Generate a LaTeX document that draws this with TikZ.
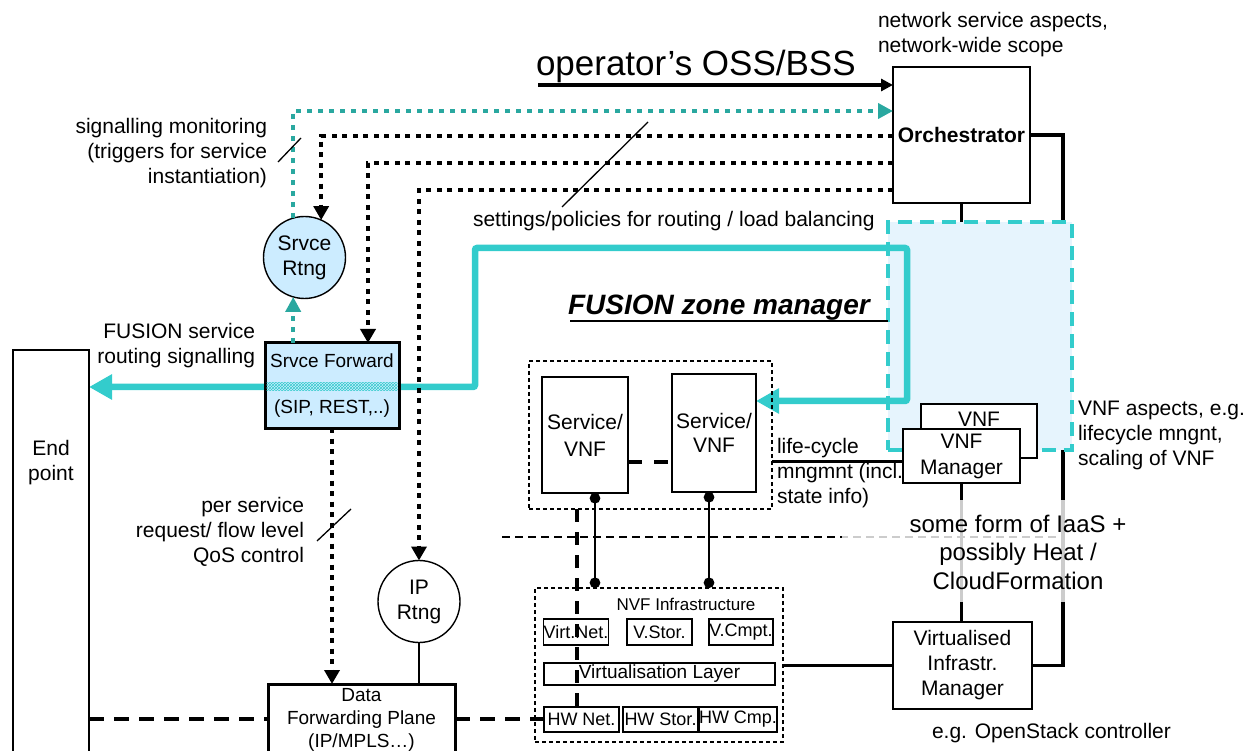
\documentclass[tikz,border=0pt]{standalone}
\usepackage{fontspec}
\setmainfont{Liberation Sans}
\usetikzlibrary{arrows.meta,patterns,calc}
\pgfdeclarelayer{back}
\pgfdeclarelayer{mid}
\pgfsetlayers{back,mid,main}
\definecolor{tealline}{RGB}{51,204,204}
\definecolor{tealdark}{RGB}{42,168,160}
\definecolor{paleblue}{RGB}{204,236,255}
\definecolor{zonefill}{RGB}{230,244,253}
\newcommand{\setfs}[2]{\fontsize{#1}{#2}\selectfont}

\begin{document}
\begin{tikzpicture}[x=1pt,y=-1pt,
  every node/.style={inner sep=0pt,outer sep=0pt},
  txt/.style={font=\setfs{21}{25}},
  plainbox/.style={draw,fill=white,line width=1.4pt},
  smallbox/.style={draw,fill=white,line width=1.2pt,font=\setfs{18}{20}},
  grpbox/.style={draw,line width=1.1pt,dash pattern=on 4pt off 3pt},
  solidlink/.style={line width=3.8pt},
  thinlink/.style={line width=1.4pt},
  blkdot/.style={line width=4.5pt,dash pattern=on 5pt off 5.5pt},
  tealdot/.style={tealdark,line width=4.5pt,dash pattern=on 5pt off 6pt},
  blkdash/.style={line width=4pt,dash pattern=on 15pt off 10pt},
  callout/.style={line width=1.3pt},
  blktip/.style={-{Triangle[length=14pt,width=15pt]}},
  tealtip/.style={-{Triangle[length=15pt,width=15pt]}},
  dottip/.style={{Circle[length=10.5pt]}-{Circle[length=10.5pt]}}
]
\path[use as bounding box] (0,0) rectangle (1251,751);
\clip (0,0) rectangle (1251,751);

% ---------- management boxes ----------
\node[plainbox,minimum width=137pt,minimum height=136pt,font=\bfseries\setfs{21}{25}] (orch) at (961.5,135) {Orchestrator};
\node[draw,fill=paleblue,line width=1.4pt,circle,minimum size=82pt,align=center,txt] (rtngS) at (304.5,257.5) {Srvce\\Rtng};
\node[plainbox,minimum width=76pt,minimum height=440pt] (endp) at (51,570) {};
\node[txt,align=center] (endtxt) at (51,463) {End\\point};
\node[plainbox,line width=3pt,minimum width=187pt,minimum height=72pt,align=center,font=\setfs{19}{23}] (dfp) at (361.5,720) {Data\\Forwarding Plane\\(IP/MPLS…)};
\node[draw,fill=white,line width=1.4pt,circle,minimum size=82pt,align=center,txt] (ipR) at (419,601.5) {IP\\Rtng};

% ---------- service / VNF group ----------
\node[grpbox,minimum width=243pt,minimum height=148pt] (svcgrp) at (650.5,435) {};
\node[plainbox,minimum width=86pt,minimum height=116pt,align=center,font=\setfs{21}{27}] (svc1) at (585,435) {Service/\\VNF};
\node[plainbox,minimum width=84pt,minimum height=118pt,align=center,font=\setfs{21}{24}] (svc2) at (714,433) {Service/\\VNF};

% ---------- NFV infrastructure ----------
\node[grpbox,minimum width=248pt,minimum height=154pt] (nfvi) at (659,665) {};
\node[font=\setfs{17}{20}] (nfvlbl) at (686,604) {NVF Infrastructure};
\node[smallbox,minimum width=64pt,minimum height=26pt] (virtnet) at (576,632) {Virt.Net.};
\node[smallbox,minimum width=65pt,minimum height=26pt] (vstor) at (659.5,632) {V.Stor.};
\node[smallbox,minimum width=64pt,minimum height=26pt] (vcmpt) at (741,632) {V.Cmpt.};
\node[smallbox,minimum width=231pt,minimum height=22pt,font=\setfs{19}{21}] (vlayer) at (659.5,674) {Virtualisation Layer};
\node[smallbox,minimum width=75pt,minimum height=25pt] (hwnet) at (581.5,719.5) {HW Net.};
\node[smallbox,minimum width=75pt,minimum height=25pt] (hwstor) at (660.5,719.5) {HW Stor.};
\node[smallbox,minimum width=74pt,minimum height=25pt] (hwcmp) at (738,719.5) {HW Cmp.};

% ---------- FUSION zone manager area ----------
\begin{pgfonlayer}{mid}
\node[draw=tealline,fill=zonefill,line width=4pt,dash pattern=on 14pt off 8pt,minimum width=184pt,minimum height=228pt] (zone) at (980,336) {};
\coordinate (tA) at (475,387);
\coordinate (tB) at (475,248);
\coordinate (tC) at (907,248);
\coordinate (tD) at (907,401);
\draw[tealline,line width=6.5pt,rounded corners=2pt,{Triangle[length=23pt,width=24pt]}-{Triangle[length=23pt,width=24pt]}]
  (endp.east |- tA) -- (tA) -- (tB) -- (tC) -- (tD) -- (svc2.east |- tD);
\end{pgfonlayer}

\node[plainbox,minimum width=116pt,minimum height=54pt,txt,text height=15pt,text depth=24pt] (vnfb) at (979,431) {VNF};
\node[plainbox,minimum width=117pt,minimum height=54pt,align=center,font=\setfs{21}{26}] (vnfm) at (961.5,456) {VNF\\Manager};
\node[plainbox,minimum width=139pt,minimum height=87pt,align=center,txt] (vim) at (962.5,665.5) {Virtualised\\Infrastr.\\Manager};

% service forwarding box with the signalling path showing through
\node[draw,fill=paleblue,line width=3pt,minimum width=134pt,minimum height=85pt,align=center,font=\setfs{19}{22}] (srvF) at (332,385.5) {Srvce Forward\\[24pt](SIP, REST,..)};
\path[pattern=crosshatch,pattern color=tealline] ($(srvF.west)+(1.5,-3)$) rectangle ($(srvF.east)+(-1.5,5)$);

% ---------- management links behind the zone ----------
\begin{pgfonlayer}{back}
\draw[solidlink] (orch.east) -- ++(33,0) |- (vim.east);
\draw[solidlink] (orch.south) -- (orch.south |- vnfm.north);
\end{pgfonlayer}

% ---------- operator input ----------
\coordinate (ossA) at (538,85);
\draw[line width=3.8pt,-{Triangle[length=12pt,width=12pt]}] (ossA) -- (ossA -| orch.west);
\node[anchor=base west,font=\setfs{35}{40}] (osslbl) at (536,76) {operator’s OSS/BSS};

% ---------- orchestrator control paths ----------
\coordinate (yT) at (0,111);
\coordinate (y1) at (0,136);
\coordinate (y2) at (0,163);
\coordinate (y3) at (0,190);
\coordinate (x2) at (368,0);
\draw[tealdot,tealtip] (rtngS.106) |- (orch.west |- yT);
\draw[blkdot,blktip] (orch.west |- y1) -| (rtngS.66);
\draw[blkdot,blktip] (orch.west |- y2) -| (x2 |- srvF.north);
\draw[blkdot,blktip] (orch.west |- y3) -| (ipR.north);
\draw[tealdot,tealtip] (srvF.north -| rtngS.254) -- (rtngS.254);
\draw[blkdot,blktip] (srvF.south) -- (srvF.south |- dfp.north);
\draw[thinlink] (ipR.south) -- (ipR.south |- dfp.north);

% ---------- data plane and VNF links ----------
\coordinate (d1) at ($(svc1.south)+(10,0)$);
\coordinate (d2) at ($(svc2.south)+(-5,0)$);
\draw[line width=2.8pt,dottip] (d1) -- (d1 |- nfvi.north);
\draw[line width=2.8pt,dottip] (d2) -- (d2 |- nfvi.north);
\coordinate (yd) at (0,462);
\draw[line width=4pt,dash pattern=on 14pt off 12pt] (svc1.east |- yd) -- (svc2.west |- yd);
\coordinate (xv) at (577,0);
\draw[line width=4pt,dash pattern=on 13pt off 10pt] (xv |- svcgrp.south) -- (xv |- hwnet.north);
\coordinate (yb) at (0,719);
\draw[blkdash] (endp.east |- yb) -- (dfp.west |- yb);
\draw[blkdash] (dfp.east |- yb) -- (hwnet.west |- yb);
\coordinate (hl) at (502,537);
\coordinate (hr) at (1063,537);
\draw[line width=1.5pt,dash pattern=on 8pt off 5pt] (hl) -- (hr);
\coordinate (ylc) at (0,461);
\draw[line width=3pt] (svcgrp.east |- ylc) -- (vnfm.west |- ylc);
\draw[solidlink] (vim.west) -- (vim.west -| nfvi.east);
\draw[solidlink] (vnfm.south) -- (vnfm.south |- vim.north);

% ---------- IaaS note over the links ----------
\fill[white,opacity=0.8] (842,500) rectangle (1140,602);
\node[align=center,font=\setfs{24}{28.5}] (iaas) at (1018,552) {some form of IaaS +\\possibly Heat /\\CloudFormation};

% ---------- labels ----------
\node[txt,anchor=west,align=left] (netsvc) at (878,35) {network service aspects,\\network-wide scope};
\node[txt,anchor=east,align=right] (sigmon) at (267,153) {signalling monitoring\\(triggers for service\\instantiation)};
\node[txt,anchor=base west] (settings) at (473,227) {settings/policies for routing / load balancing};
\node[anchor=base west,font=\bfseries\itshape\setfs{28}{32}] (fzm) at (568,315) {FUSION zone manager};
\node[txt,anchor=east,align=right] (fusvc) at (255,346) {FUSION service\\routing signalling};
\node[txt,anchor=east,align=right] (persvc) at (304,532) {per service\\request/ flow level\\QoS control};
\node[txt,anchor=west,align=left] (lifecyc) at (777,473.5) {life-cycle\\mngmnt (incl.\\state info)};
\node[txt,anchor=west,align=left] (vnfasp) at (1078,435) {VNF aspects, e.g.\\lifecycle mngnt,\\scaling of VNF};
\node[txt,anchor=west] (ostack) at (932,733) {e.g. OpenStack controller};

% ---------- callout strokes ----------
\coordinate (c1a) at (278,162);
\coordinate (c1b) at (301,138);
\coordinate (c2a) at (562,207);
\coordinate (c2b) at (648,122);
\coordinate (c3a) at (317,541);
\coordinate (c3b) at (351,509);
\coordinate (zmA) at (570,321);
\draw[callout] (c1a) -- (c1b);
\draw[callout] (c2a) -- (c2b);
\draw[callout] (c3a) -- (c3b);
\draw[callout] (zmA) -- (zmA -| zone.west);
\end{tikzpicture}
\end{document}
